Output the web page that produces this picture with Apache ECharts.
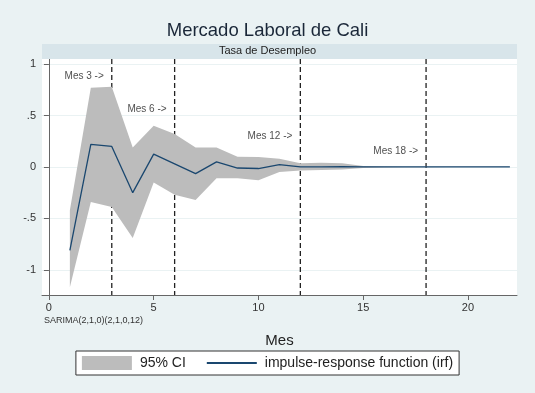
<!DOCTYPE html>
<html>
<head>
<meta charset="utf-8">
<script src="https://cdn.jsdelivr.net/npm/echarts@6/dist/echarts.min.js"></script>
<style>
  html, body { margin: 0; padding: 0; background: #eaf2f3; }
  #chart { width: 535px; height: 393px; }
</style>
</head>
<body>
<div id="chart"></div>
<script>
  // datos (irf de SARIMA)
  const meses = [1, 2, 3, 4, 5, 6, 7, 8, 9, 10, 11, 12, 13, 14, 15, 16, 17, 18, 19, 20, 21, 22];
  const irf = [-0.81, 0.22, 0.20, -0.25, 0.125, 0.03, -0.065, 0.05, -0.01, -0.015, 0.022, 0.0, 0.0, 0.002, 0.001, 0.0, 0.0, 0.0, 0.0, 0.0, 0.0, 0.0];
  const ciUpper = [-0.42, 0.77, 0.78, 0.19, 0.40, 0.32, 0.19, 0.19, 0.10, 0.097, 0.08, 0.035, 0.04, 0.035, 0.01, 0.005, 0.003, 0.002, 0.001, 0.001, 0.001, 0.001];
  const ciLower = [-1.17, -0.34, -0.39, -0.69, -0.15, -0.27, -0.32, -0.11, -0.11, -0.13, -0.05, -0.035, -0.03, -0.025, -0.01, -0.005, -0.003, -0.002, -0.001, -0.001, -0.001, -0.001];
  const marcas = [3, 6, 12, 18];
  const notas = ['Mes 3 ->', 'Mes 6 ->', 'Mes 12 ->', 'Mes 18 ->'];
  const notasY = [0.887, 0.563, 0.297, 0.152];
  const xTicks = [0, 5, 10, 15, 20];
  const yTicks = [-1, -0.5, 0, 0.5, 1];

  const fmtY = v => {
    if (v === 0) return '0';
    return String(v).replace('0.', '.');
  };

  // banda del intervalo: un solo poligono (superior ida, inferior vuelta)
  function bandaCI(params, api) {
    if (params.dataIndex !== 0) return null;
    let pts = [];
    for (let i = 0; i < meses.length; i++) pts.push(api.coord([meses[i], ciUpper[i]]));
    for (let i = meses.length - 1; i >= 0; i--) pts.push(api.coord([meses[i], ciLower[i]]));
    return {
      type: 'polygon',
      shape: { points: pts },
      style: { fill: '#bcbcbc' }
    };
  }

  // lineas verticales punteadas, debajo de la banda
  function lineaMarca(params, api) {
    let x = api.coord([api.value(0), 0])[0];
    let cs = params.coordSys;
    return {
      type: 'line',
      shape: { x1: x, y1: cs.y, x2: x, y2: cs.y + cs.height },
      style: { stroke: '#222', lineWidth: 1.3, lineDash: [5, 3] }
    };
  }

  let chart = echarts.init(document.getElementById('chart'));
  let option = {
    backgroundColor: '#eaf2f3',
    textStyle: { fontFamily: 'Liberation Sans, Arial, sans-serif' },
    title: {
      text: 'Mercado Laboral de Cali',
      left: 'center',
      top: 16,
      textStyle: { fontSize: 18.5, fontWeight: 'normal', color: '#1a2738' }
    },
    grid: {
      left: 42, right: 18, top: 59, bottom: 98,
      show: true, backgroundColor: '#fff', borderWidth: 0
    },
    graphic: [
      {
        type: 'rect', left: 42, top: 44, z: 10,
        shape: { width: 475, height: 15 },
        style: { fill: '#d8e5ea' }
      },
      {
        type: 'text', left: 'center', top: 45, z: 11,
        x: 12,
        style: { text: 'Tasa de Desempleo', fill: '#222', font: '11px Liberation Sans' }
      },
      {
        type: 'text', left: 44, top: 316, z: 11,
        style: { text: 'SARIMA(2,1,0)(2,1,0,12)', fill: '#333', font: '9px Liberation Sans' }
      }
    ],
    legend: {
      data: [
        { name: '95% CI', icon: 'rect' },
        { name: 'impulse-response function (irf)', itemStyle: { opacity: 0 } }
      ],
      left: 'center',
      top: 351,
      itemWidth: 50,
      itemHeight: 14,
      itemGap: 20,
      padding: [5, 6],
      borderColor: '#333',
      borderWidth: 1,
      backgroundColor: '#fff',
      textStyle: { fontSize: 14, color: '#222', padding: [0, 0, 0, 3] }
    },
    xAxis: {
      type: 'value',
      min: -0.33,
      max: 22.34,
      name: 'Mes',
      nameLocation: 'middle',
      nameGap: 38,
      nameTextStyle: { fontSize: 15, color: '#222' },
      axisLine: { show: true, onZero: false, lineStyle: { color: '#666' } },
      axisTick: { show: true, length: 5, customValues: xTicks, lineStyle: { color: '#666' } },
      axisLabel: { customValues: xTicks, fontSize: 11, color: '#333', margin: 7 },
      splitLine: { show: false }
    },
    yAxis: {
      type: 'value',
      min: -1.245,
      max: 1.05,
      axisLine: { show: true, lineStyle: { color: '#666' } },
      axisTick: { show: true, length: 5, customValues: yTicks, lineStyle: { color: '#666' } },
      axisLabel: { customValues: yTicks, fontSize: 11, color: '#333', margin: 6, formatter: fmtY },
      splitLine: { show: true, lineStyle: { color: '#eaf2f3', width: 1 } }
    },
    series: [
      {
        name: 'marcas',
        type: 'custom',
        z: 1,
        silent: true,
        renderItem: lineaMarca,
        encode: { x: 0 },
        data: marcas.map(m => [m])
      },
      {
        name: '95% CI',
        type: 'custom',
        z: 2,
        color: '#bcbcbc',
        itemStyle: { color: '#bcbcbc' },
        renderItem: bandaCI,
        encode: { x: 0, y: [1, 2] },
        data: meses.map((m, i) => [m, ciLower[i], ciUpper[i]])
      },
      {
        name: 'impulse-response function (irf)',
        type: 'line',
        symbol: 'none',
        z: 3,
        color: '#1a476f',
        lineStyle: { width: 1.3, color: '#1a476f' },
        data: meses.map((m, i) => [m, irf[i]])
      },
      {
        name: 'notas',
        type: 'scatter',
        symbolSize: 0,
        z: 4,
        silent: true,
        label: {
          show: true,
          position: 'left',
          distance: 8,
          fontSize: 10,
          color: '#222',
          formatter: p => p.data[2]
        },
        data: marcas.map((m, i) => [m, notasY[i], notas[i]])
      }
    ]
  };
  chart.setOption(option);
</script>
</body>
</html>
